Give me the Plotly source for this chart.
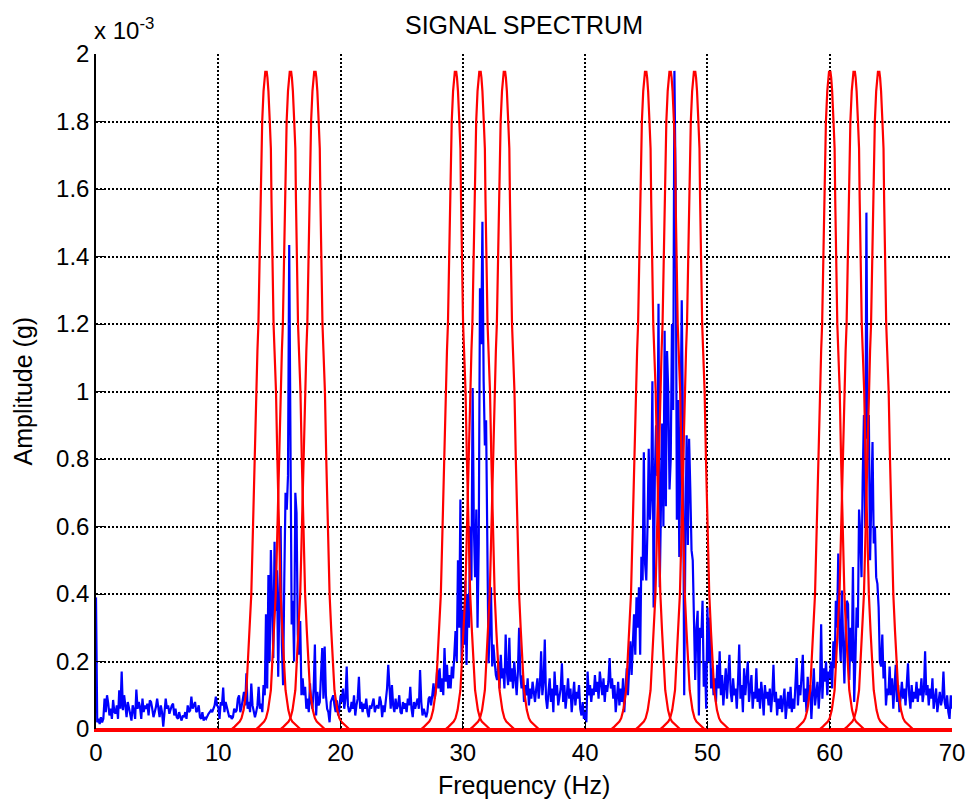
import plotly.graph_objects as go

# Frequency axis of the measured spectrum: 0 .. 70 Hz in 0.1 Hz bins
freq_step_hz = 0.1

# Measured amplitude spectrum (units of 1e-3 g), one row per 1 Hz (10 bins each)
amp_rows = [
    [0.39, 0.02, 0.03, 0.015, 0.035, 0.02, 0.03, 0.09, 0.05, 0.10],        # 0 Hz
    [0.076, 0.04, 0.06, 0.03, 0.086, 0.05, 0.046, 0.07, 0.03, 0.115],      # 1
    [0.06, 0.17, 0.056, 0.10, 0.07, 0.035, 0.08, 0.06, 0.04, 0.025],       # 2
    [0.07, 0.055, 0.03, 0.117, 0.06, 0.08, 0.065, 0.03, 0.09, 0.05],       # 3
    [0.07, 0.06, 0.075, 0.04, 0.085, 0.08, 0.06, 0.035, 0.05, 0.065],      # 4
    [0.09, 0.06, 0.035, 0.07, 0.05, 0.007, 0.04, 0.09, 0.06, 0.07],        # 5
    [0.045, 0.06, 0.07, 0.075, 0.04, 0.06, 0.035, 0.03, 0.05, 0.035],      # 6
    [0.025, 0.04, 0.035, 0.05, 0.03, 0.07, 0.05, 0.055, 0.096, 0.06],      # 7
    [0.07, 0.08, 0.05, 0.055, 0.07, 0.035, 0.03, 0.05, 0.025, 0.035],      # 8
    [0.03, 0.04, 0.045, 0.05, 0.055, 0.05, 0.06, 0.07, 0.096, 0.07],       # 9
    [0.065, 0.03, 0.08, 0.07, 0.123, 0.05, 0.08, 0.06, 0.05, 0.035],       # 10
    [0.04, 0.03, 0.035, 0.06, 0.05, 0.055, 0.09, 0.10, 0.05, 0.065],       # 11
    [0.09, 0.11, 0.07, 0.165, 0.06, 0.08, 0.05, 0.135, 0.07, 0.045],       # 12
    [0.035, 0.05, 0.07, 0.125, 0.06, 0.075, 0.05, 0.13, 0.10, 0.34],       # 13
    [0.12, 0.456, 0.2, 0.53, 0.3, 0.21, 0.555, 0.35, 0.47, 0.155],         # 14
    [0.4, 0.6, 0.25, 0.13, 0.45, 0.70, 0.65, 0.75, 1.434, 0.73],           # 15
    [0.31, 0.38, 0.2, 0.70, 0.64, 0.28, 0.22, 0.32, 0.1, 0.15],            # 16
    [0.1, 0.125, 0.06, 0.09, 0.05, 0.135, 0.08, 0.06, 0.12, 0.25],         # 17
    [0.04, 0.11, 0.07, 0.08, 0.15, 0.24, 0.09, 0.244, 0.1, 0.06],          # 18
    [0.05, 0.02, 0.08, 0.09, 0.1, 0.07, 0.05, 0.085, 0.04, 0.06],          # 19
    [0.1, 0.08, 0.12, 0.06, 0.09, 0.185, 0.07, 0.05, 0.055, 0.08],         # 20
    [0.06, 0.1, 0.04, 0.07, 0.09, 0.155, 0.06, 0.08, 0.05, 0.075],         # 21
    [0.06, 0.09, 0.05, 0.035, 0.07, 0.06, 0.08, 0.09, 0.05, 0.065],        # 22
    [0.07, 0.06, 0.096, 0.08, 0.035, 0.07, 0.05, 0.08, 0.12, 0.19],        # 23
    [0.1, 0.06, 0.13, 0.07, 0.05, 0.09, 0.06, 0.07, 0.1, 0.05],            # 24
    [0.045, 0.08, 0.06, 0.076, 0.05, 0.09, 0.07, 0.125, 0.06, 0.035],      # 25
    [0.08, 0.06, 0.076, 0.09, 0.06, 0.175, 0.08, 0.04, 0.06, 0.05],        # 26
    [0.035, 0.05, 0.09, 0.096, 0.07, 0.1, 0.135, 0.09, 0.12, 0.175],       # 27
    [0.12, 0.18, 0.11, 0.15, 0.1, 0.24, 0.14, 0.19, 0.12, 0.16],           # 28
    [0.12, 0.185, 0.15, 0.22, 0.29, 0.2, 0.5, 0.3, 0.68, 0.2],             # 29
    [0.35, 0.25, 0.44, 0.19, 0.4, 0.3, 0.6, 0.44, 1.01, 0.6],              # 30
    [0.45, 0.65, 0.3, 0.55, 1.306, 1.14, 1.503, 1.03, 0.84, 0.915],        # 31
    [0.48, 0.195, 0.3, 0.42, 0.185, 0.25, 0.2, 0.16, 0.145, 0.2],          # 32
    [0.12, 0.22, 0.15, 0.18, 0.12, 0.28, 0.17, 0.13, 0.27, 0.14],          # 33
    [0.18, 0.12, 0.2, 0.15, 0.1, 0.17, 0.3, 0.16, 0.12, 0.16],             # 34
    [0.08, 0.13, 0.1, 0.15, 0.07, 0.12, 0.09, 0.14, 0.1, 0.08],            # 35
    [0.12, 0.15, 0.09, 0.13, 0.23, 0.1, 0.14, 0.265, 0.09, 0.06],          # 36
    [0.11, 0.15, 0.08, 0.12, 0.05, 0.17, 0.1, 0.13, 0.07, 0.1],            # 37
    [0.12, 0.195, 0.08, 0.13, 0.06, 0.1, 0.15, 0.09, 0.12, 0.05],          # 38
    [0.1, 0.14, 0.07, 0.11, 0.09, 0.13, 0.06, 0.04, 0.08, 0.03],           # 39
    [0.05, 0.02, 0.17, 0.1, 0.13, 0.08, 0.12, 0.1, 0.16, 0.11],            # 40
    [0.14, 0.09, 0.17, 0.12, 0.1, 0.15, 0.08, 0.13, 0.11, 0.14],           # 41
    [0.21, 0.12, 0.15, 0.09, 0.13, 0.05, 0.1, 0.14, 0.07, 0.12],           # 42
    [0.08, 0.15, 0.05, 0.12, 0.18, 0.1, 0.2, 0.26, 0.16, 0.27],            # 43
    [0.34, 0.22, 0.39, 0.3, 0.42, 0.22, 0.51, 0.44, 0.82, 0.49],           # 44
    [0.44, 0.6, 0.83, 0.62, 0.7, 1.03, 0.36, 0.75, 0.9, 0.75],             # 45
    [1.26, 0.42, 0.7, 0.905, 0.6, 1.18, 0.66, 1.12, 0.995, 0.71],          # 46
    [0.8, 1.2, 0.945, 1.95, 1.6, 0.62, 0.975, 0.51, 0.9, 1.27],            # 47
    [0.9, 0.1, 0.58, 0.87, 0.545, 0.86, 0.71, 0.53, 0.5, 0.27],            # 48
    [0.145, 0.3, 0.35, 0.04, 0.3, 0.27, 0.38, 0.125, 0.2, 0.06],           # 49
    [0.36, 0.2, 0.33, 0.12, 0.18, 0.1, 0.15, 0.08, 0.19, 0.12],            # 50
    [0.23, 0.1, 0.16, 0.07, 0.13, 0.18, 0.09, 0.14, 0.22, 0.11],           # 51
    [0.08, 0.15, 0.1, 0.12, 0.06, 0.14, 0.25, 0.09, 0.13, 0.05],           # 52
    [0.18, 0.1, 0.14, 0.2, 0.08, 0.12, 0.16, 0.06, 0.11, 0.09],            # 53
    [0.18, 0.08, 0.12, 0.06, 0.14, 0.1, 0.04, 0.13, 0.09, 0.11],           # 54
    [0.07, 0.12, 0.05, 0.1, 0.19, 0.08, 0.11, 0.04, 0.09, 0.06],           # 55
    [0.1, 0.05, 0.08, 0.12, 0.03, 0.07, 0.11, 0.06, 0.125, 0.05],          # 56
    [0.09, 0.06, 0.12, 0.21, 0.07, 0.13, 0.1, 0.15, 0.22, 0.08],           # 57
    [0.12, 0.05, 0.155, 0.09, 0.13, 0.03, 0.11, 0.18, 0.07, 0.1],          # 58
    [0.14, 0.06, 0.12, 0.31, 0.09, 0.18, 0.14, 0.2, 0.1, 0.17],            # 59
    [0.15, 0.2, 0.12, 0.26, 0.18, 0.38, 0.3, 0.52, 0.27, 0.2],             # 60
    [0.41, 0.25, 0.135, 0.3, 0.38, 0.37, 0.145, 0.3, 0.2, 0.48],           # 61
    [0.08, 0.2, 0.36, 0.3, 0.65, 0.58, 0.45, 0.75, 0.93, 0.6],             # 62
    [1.53, 0.86, 0.93, 0.5, 0.7, 0.85, 0.55, 0.6, 0.45, 0.43],             # 63
    [0.36, 0.2, 0.185, 0.28, 0.15, 0.2, 0.07, 0.12, 0.1, 0.185],           # 64
    [0.1, 0.15, 0.06, 0.12, 0.19, 0.08, 0.13, 0.05, 0.11, 0.14],           # 65
    [0.09, 0.12, 0.07, 0.15, 0.195, 0.1, 0.06, 0.13, 0.08, 0.11],          # 66
    [0.09, 0.14, 0.08, 0.12, 0.1, 0.15, 0.08, 0.11, 0.23, 0.1],            # 67
    [0.13, 0.07, 0.12, 0.09, 0.15, 0.06, 0.1, 0.12, 0.05, 0.09],           # 68
    [0.11, 0.07, 0.09, 0.17, 0.08, 0.06, 0.1, 0.05, 0.03, 0.1],            # 69
    [0.06],                                                                # 70
]

# Band-pass filter responses: centre frequencies (Hz)
filter_centers_hz = [13.9, 15.9, 17.9, 29.4, 31.4, 33.4,
                     44.95, 46.95, 48.95, 60.0, 62.0, 64.0]

# One-sided filter magnitude profile: offset from centre (Hz) -> amplitude (1e-3 g)
filter_offsets_hz = [0.0, 0.05, 0.12, 0.2, 0.31, 0.4, 0.45, 0.48, 0.53, 0.62,
                     0.7, 0.82, 0.93, 1.06, 1.2, 1.34, 1.47, 1.6, 1.83, 2.0,
                     2.15, 2.56, 2.8]
filter_levels = [1.935, 1.95, 1.93, 1.89, 1.80, 1.72, 1.57, 1.48, 1.37, 1.2,
                 1.12, 1.0, 0.8, 0.6, 0.4, 0.29, 0.2, 0.115, 0.056, 0.032,
                 0.022, 0.007, 0.0]

x_ticks = [0, 10, 20, 30, 40, 50, 60, 70]
y_ticks = [0, 0.2, 0.4, 0.6, 0.8, 1.0, 1.2, 1.4, 1.6, 1.8, 2.0]

FONT = "Liberation Sans, Arial, Helvetica, sans-serif"
TICK_FS = 24
LABEL_FS = 25

amp = [v for row in amp_rows for v in row]
freq = [round(i * freq_step_hz, 1) for i in range(len(amp))]

fig = go.Figure()

# Spectrum (blue)
fig.add_trace(go.Scatter(x=freq, y=amp, mode="lines",
                         line=dict(color="#0000ff", width=2.2),
                         hoverinfo="skip", showlegend=False))

# Filter bank (red), each sampled over the whole band so the stopband sits on zero
for c in filter_centers_hz:
    left_x = [c - o for o in reversed(filter_offsets_hz[1:])]
    left_y = list(reversed(filter_levels[1:]))
    right_x = [c + o for o in filter_offsets_hz]
    right_y = list(filter_levels)
    xs = [0.0] + left_x + right_x + [70.0]
    ys = [0.0] + left_y + right_y + [0.0]
    fig.add_trace(go.Scatter(x=xs, y=ys, mode="lines",
                             line=dict(color="#ff0000", width=2.2),
                             hoverinfo="skip", showlegend=False))

axis_common = dict(
    automargin=False,
    showline=True, linecolor="black", linewidth=1.5, mirror=False,
    ticks="inside", ticklen=8, tickcolor="black", tickwidth=1.2,
    showgrid=True, gridcolor="black", gridwidth=1.5, griddash="2px,2px",
    zeroline=False,
    tickfont=dict(family=FONT, size=TICK_FS, color="black"),
)

x_axis = dict(axis_common)
# the zero-level stopband of the filters runs along the bottom edge
x_axis.update(linecolor="#ff0000", linewidth=3)

fig.update_layout(
    width=970, height=803,
    margin=dict(l=96, r=18, t=54, b=74),
    paper_bgcolor="white", plot_bgcolor="white",
    xaxis=dict(range=[0, 70], tickvals=x_ticks, ticktext=[str(t) for t in x_ticks],
               **x_axis),
    yaxis=dict(range=[0, 2], tickvals=y_ticks,
               ticktext=[("%g" % t) for t in y_ticks], **axis_common),
    annotations=[
        dict(text="SIGNAL SPECTRUM", xref="paper", yref="paper", x=0.5, y=1,
             yshift=13, xanchor="center", yanchor="bottom", showarrow=False,
             font=dict(family=FONT, size=LABEL_FS, color="black")),
        dict(text="x 10<sup>-3</sup>", xref="paper", yref="paper", x=0, y=1,
             xshift=-4, yshift=8, xanchor="left", yanchor="bottom", showarrow=False,
             font=dict(family=FONT, size=TICK_FS, color="black")),
        dict(text="Frequency (Hz)", xref="paper", yref="paper", x=0.5, y=0,
             yshift=-40, xanchor="center", yanchor="top", showarrow=False,
             font=dict(family=FONT, size=LABEL_FS, color="black")),
        dict(text="Amplitude (g)", xref="paper", yref="paper", x=0, y=0.5,
             xshift=-58, textangle=-90, xanchor="right", yanchor="middle",
             showarrow=False, font=dict(family=FONT, size=LABEL_FS, color="black")),
    ],
)

fig.write_html("out.html")
